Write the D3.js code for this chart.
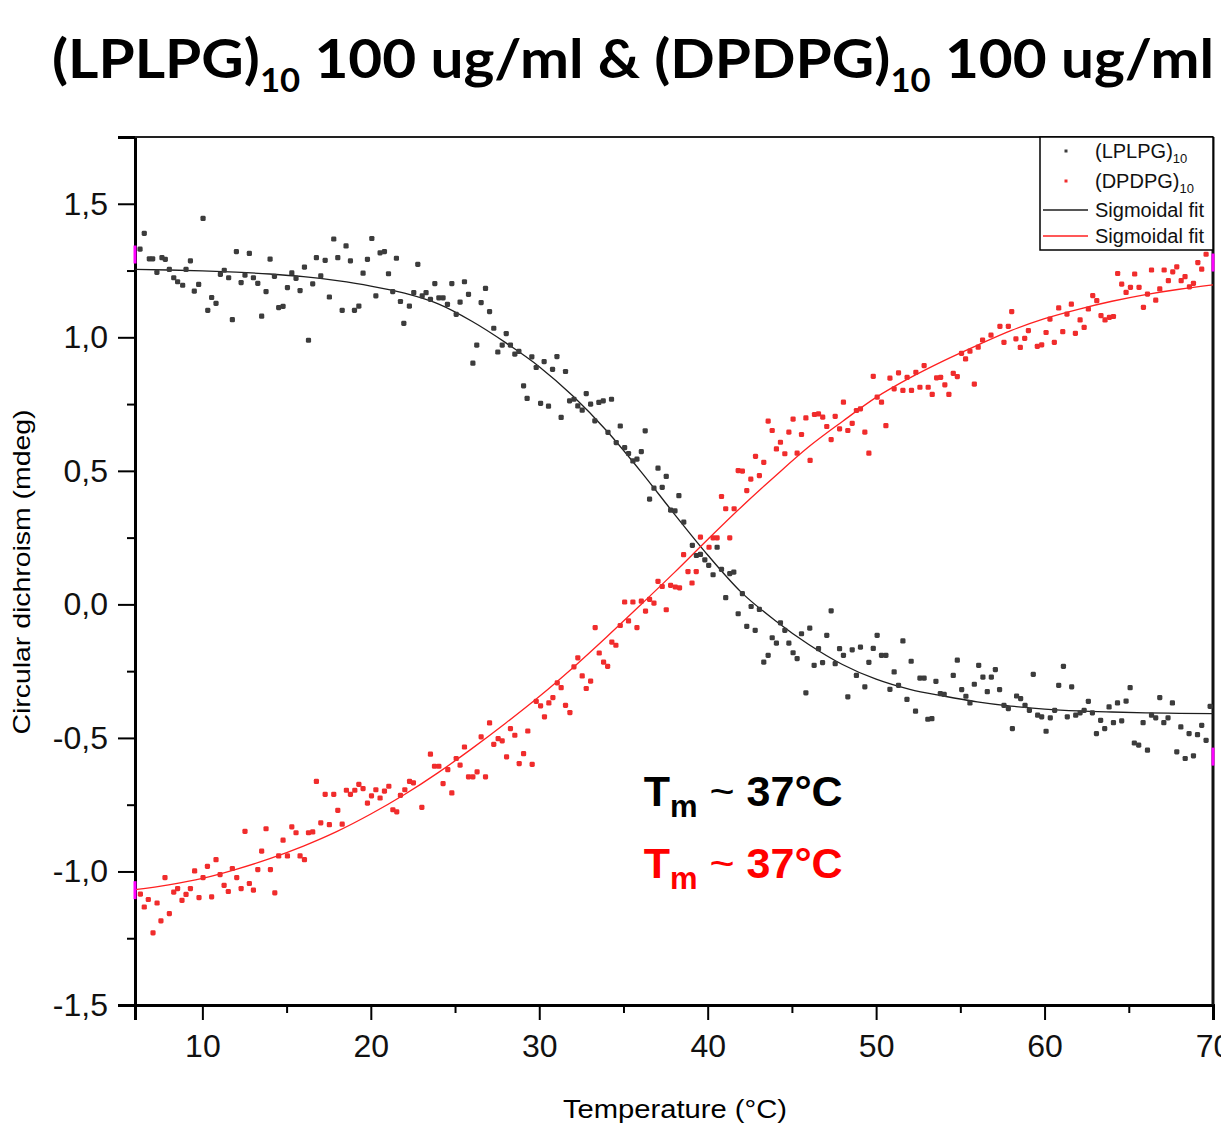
<!DOCTYPE html>
<html>
<head>
<meta charset="utf-8">
<script src="https://cdn.jsdelivr.net/npm/d3@7"></script>
<style>
  body { margin: 0; background: #fff; }
  svg { display: block; }
</style>
</head>
<body>
<div id="chart"></div>
<script>
// values: [temperature (°C), circular dichroism (mdeg)]
var lplpgPoints = [
  [6.3,1.33],[6.55,1.389],[6.85,1.294],[7.05,1.294],[7.3,1.243],[7.6,1.298],[7.8,1.292],[8.04,1.254],[8.3,1.223],[8.53,1.208],
  [8.83,1.195],[9.03,1.254],[9.29,1.286],[9.52,1.173],[9.78,1.198],[10.04,1.445],[10.32,1.101],[10.55,1.149],[10.81,1.127],[11.07,1.236],
  [11.3,1.251],[11.56,1.223],[11.78,1.066],[12.02,1.321],[12.3,1.205],[12.53,1.233],[12.79,1.314],[13.03,1.223],[13.29,1.202],[13.52,1.079],
  [13.78,1.171],[14.02,1.293],[14.28,1.228],[14.53,1.111],[14.79,1.116],[15.05,1.186],[15.31,1.241],[15.56,1.221],[15.8,1.175],[16.06,1.263],
  [16.3,0.989],[16.55,1.2],[16.77,1.298],[17.03,1.23],[17.29,1.288],[17.54,1.151],[17.8,1.368],[18.04,1.298],[18.3,1.101],[18.53,1.342],
  [18.79,1.286],[19.03,1.101],[19.29,1.117],[19.54,1.24],[19.8,1.292],[20.06,1.37],[20.3,1.155],[20.55,1.316],[20.81,1.321],[21.05,1.238],
  [21.3,1.171],[21.52,1.296],[21.76,1.134],[21.96,1.052],[22.29,1.117],[22.55,1.167],[22.79,1.273],[23.05,1.155],[23.28,1.167],[23.54,1.142],
  [23.8,1.201],[24.04,1.148],[24.29,1.148],[24.55,1.123],[24.81,1.201],[25.07,1.086],[25.3,1.132],[25.56,1.208],[25.8,1.161],[26.06,0.903],
  [26.29,0.971],[26.55,1.13],[26.81,1.183],[27.05,1.096],[27.3,1.034],[27.54,0.945],[27.8,0.971],[28.04,1.014],[28.29,0.971],[28.55,0.937],
  [28.79,0.947],[29.07,0.818],[29.28,0.771],[29.56,0.927],[29.82,0.887],[30.08,0.753],[30.29,0.909],[30.55,0.742],[30.79,0.88],[31.05,0.928],
  [31.3,0.7],[31.56,0.872],[31.8,0.762],[32.06,0.768],[32.29,0.743],[32.55,0.727],[32.79,0.789],[33.05,0.75],[33.3,0.687],[33.54,0.756],
  [33.8,0.762],[34.08,0.644],[34.29,0.768],[34.57,0.606],[34.81,0.668],[35.07,0.587],[35.3,0.565],[35.56,0.537],[35.8,0.544],[36.06,0.572],
  [36.29,0.65],[36.55,0.394],[36.81,0.435],[37.05,0.51],[37.3,0.438],[37.54,0.479],[37.8,0.353],[38.06,0.35],[38.29,0.407],[38.58,0.308],
  [39.09,0.221],[39.33,0.183],[39.57,0.187],[39.83,0.167],[40.06,0.146],[40.32,0.111],[40.56,0.214],[40.82,0.131],[41.07,0.025],[41.31,0.115],
  [41.55,0.121],[41.81,-0.035],[42.06,0.04],[42.32,-0.082],[42.58,-0.008],[42.82,-0.097],[43.07,-0.019],[43.33,-0.216],[43.59,-0.191],[43.83,-0.125],
  [44.08,-0.145],[44.32,-0.069],[44.58,-0.097],[44.82,-0.145],[45.07,-0.181],[45.31,-0.203],[45.57,-0.11],[45.83,-0.331],[46.06,-0.089],[46.32,-0.228],
  [46.58,-0.166],[46.82,-0.218],[47.07,-0.116],[47.33,-0.024],[47.57,-0.222],[47.83,-0.166],[48.06,-0.191],[48.32,-0.346],[48.58,-0.17],[48.83,-0.266],
  [49.07,-0.16],[49.33,-0.309],[49.57,-0.217],[49.83,-0.165],[50.06,-0.116],[50.32,-0.191],[50.58,-0.191],[50.82,-0.318],[51.07,-0.253],[51.33,-0.303],
  [51.59,-0.137],[51.83,-0.356],[52.08,-0.213],[52.34,-0.4],[52.6,-0.276],[52.85,-0.276],[53.07,-0.43],[53.31,-0.428],[53.55,-0.288],[53.81,-0.334],
  [54.04,-0.337],[54.58,-0.266],[54.82,-0.209],[55.08,-0.319],[55.33,-0.344],[55.57,-0.369],[55.83,-0.299],[56.09,-0.228],[56.34,-0.272],[56.6,-0.327],
  [56.84,-0.272],[57.08,-0.244],[57.33,-0.319],[57.59,-0.378],[57.85,-0.39],[58.09,-0.465],[58.34,-0.343],[58.58,-0.353],[58.84,-0.378],[59.1,-0.397],
  [59.33,-0.262],[59.59,-0.415],[59.83,-0.421],[60.09,-0.475],[60.34,-0.425],[60.6,-0.397],[60.84,-0.303],[61.12,-0.232],[61.35,-0.421],[61.61,-0.309],
  [61.85,-0.415],[62.11,-0.406],[62.35,-0.397],[62.6,-0.363],[62.84,-0.406],[63.08,-0.484],[63.33,-0.434],[63.57,-0.465],[63.83,-0.384],[64.09,-0.443],
  [64.33,-0.369],[64.58,-0.436],[64.84,-0.362],[65.08,-0.312],[65.33,-0.519],[65.59,-0.527],[65.85,-0.443],[66.11,-0.546],[66.35,-0.415],[66.6,-0.425],
  [66.84,-0.349],[67.08,-0.443],[67.33,-0.425],[67.59,-0.369],[67.85,-0.552],[68.09,-0.459],[68.35,-0.577],[68.58,-0.484],[68.84,-0.567],[69.08,-0.488],
  [69.33,-0.453],[69.59,-0.509],[69.83,-0.382]
];

var dpdpgPoints = [
  [6.32,-1.085],[6.55,-1.133],[6.79,-1.105],[7.07,-1.23],[7.31,-1.118],[7.54,-1.185],[7.78,-1.023],[8.04,-1.158],[8.3,-1.077],[8.53,-1.064],
  [8.79,-1.108],[9.03,-1.086],[9.29,-1.064],[9.54,-0.998],[9.8,-1.098],[10.04,-1.023],[10.3,-0.981],[10.55,-1.095],[10.81,-0.956],[11.05,-1.012],
  [11.29,-1.052],[11.54,-1.075],[11.78,-0.989],[12.04,-1.023],[12.3,-1.064],[12.53,-0.85],[12.79,-1.045],[13.03,-1.07],[13.29,-0.993],[13.52,-0.924],
  [13.78,-0.84],[14.04,-0.993],[14.3,-1.08],[14.53,-0.942],[14.79,-0.883],[15.05,-0.942],[15.31,-0.833],[15.56,-0.855],[15.8,-0.942],[16.06,-0.956],
  [16.3,-0.855],[16.55,-0.852],[16.77,-0.663],[17.03,-0.818],[17.29,-0.711],[17.54,-0.825],[17.8,-0.711],[18.04,-0.771],[18.3,-0.823],[18.55,-0.696],
  [18.79,-0.711],[19.05,-0.696],[19.29,-0.674],[19.54,-0.69],[19.8,-0.744],[20.04,-0.717],[20.3,-0.694],[20.55,-0.725],[20.81,-0.699],[21.07,-0.681],
  [21.31,-0.769],[21.54,-0.777],[21.76,-0.715],[22.02,-0.694],[22.3,-0.663],[22.53,-0.668],[23.03,-0.76],[23.54,-0.561],[23.78,-0.606],[24.04,-0.606],
  [24.29,-0.671],[24.57,-0.619],[24.81,-0.706],[25.07,-0.577],[25.3,-0.602],[25.56,-0.534],[25.8,-0.646],[26.06,-0.646],[26.31,-0.627],[26.55,-0.496],
  [26.81,-0.646],[27.05,-0.444],[27.3,-0.524],[27.56,-0.503],[27.8,-0.511],[28.06,-0.571],[28.29,-0.465],[28.55,-0.49],[28.81,-0.596],[29.07,-0.559],
  [29.32,-0.474],[29.58,-0.599],[29.82,-0.363],[30.08,-0.38],[30.31,-0.421],[30.57,-0.369],[30.81,-0.349],[31.07,-0.294],[31.3,-0.312],[31.56,-0.378],
  [31.82,-0.405],[32.06,-0.234],[32.29,-0.2],[32.55,-0.268],[32.79,-0.315],[33.05,-0.287],[33.32,-0.087],[33.56,-0.182],[33.82,-0.216],[34.06,-0.232],
  [34.31,-0.141],[34.55,-0.153],[34.81,-0.079],[35.07,0.009],[35.3,-0.062],[35.56,0.009],[35.8,-0.087],[36.06,0.012],[36.31,-0.025],[36.55,0.019],
  [36.81,0.005],[37.05,0.086],[37.3,0.067],[37.54,-0.02],[37.8,0.071],[38.08,0.065],[38.33,0.062],[38.57,0.186],[38.83,0.123],[39.07,0.08],
  [39.32,0.123],[39.57,0.252],[40.08,0.214],[40.32,0.249],[40.56,0.249],[40.82,0.404],[41.07,0.358],[41.31,0.249],[41.57,0.358],[41.81,0.501],
  [42.06,0.499],[42.32,0.426],[42.56,0.469],[42.84,0.554],[43.07,0.482],[43.33,0.532],[43.59,0.686],[43.83,0.651],[44.08,0.582],[44.32,0.607],
  [44.58,0.564],[44.82,0.645],[45.07,0.694],[45.31,0.566],[45.57,0.636],[45.83,0.698],[46.08,0.539],[46.34,0.711],[46.58,0.713],[46.83,0.701],
  [47.07,0.666],[47.33,0.617],[47.57,0.704],[47.83,0.657],[48.06,0.757],[48.32,0.651],[48.58,0.678],[48.83,0.726],[49.07,0.732],[49.33,0.645],
  [49.57,0.566],[49.83,0.854],[50.06,0.776],[50.32,0.757],[50.58,0.669],[50.82,0.847],[51.07,0.807],[51.33,0.867],[51.59,0.801],[51.84,0.85],
  [52.1,0.801],[52.36,0.869],[52.6,0.813],[52.85,0.894],[53.09,0.813],[53.33,0.786],[53.59,0.848],[53.83,0.85],[54.08,0.822],[54.32,0.786],
  [54.58,0.865],[54.82,0.853],[55.07,0.94],[55.31,0.919],[55.57,0.948],[55.83,0.825],[56.06,0.963],[56.32,0.99],[56.82,1.008],[57.35,1.041],
  [57.59,0.981],[57.85,1.041],[58.05,1.096],[58.3,0.994],[58.56,0.962],[58.82,0.996],[59.04,1.025],[59.57,0.966],[59.83,0.972],[60.09,1.018],
  [60.32,1.068],[60.58,0.981],[60.84,1.11],[61.08,1.021],[61.33,1.087],[61.59,1.124],[61.83,1.015],[62.11,1.065],[62.35,1.037],[62.6,1.106],
  [62.86,1.156],[63.1,1.137],[63.35,1.081],[63.59,1.065],[63.85,1.075],[64.09,1.078],[64.34,1.239],[64.58,1.199],[64.84,1.168],[65.1,1.187],
  [65.35,1.237],[65.61,1.187],[65.87,1.112],[66.11,1.162],[66.35,1.252],[66.6,1.139],[66.84,1.181],[67.1,1.252],[67.35,1.212],[67.61,1.245],
  [67.85,1.264],[68.11,1.212],[68.34,1.227],[68.6,1.189],[68.84,1.202],[69.1,1.28],[69.33,1.255],[69.59,1.311]
];

// sigmoidal fit curves, read every 2 °C
var fitTemps = [6,8,10,12,14,16,18,20,22,24,26,28,30,32,34,36,38,40,42,44,46,48,50,52,54,56,58,60,62,64,66,68,70];
var lplpgFit = [1.254,1.252,1.249,1.244,1.237,1.227,1.212,1.192,1.165,1.125,1.06,0.98,0.89,0.78,0.65,0.5,0.34,0.185,0.045,-0.06,-0.15,-0.225,-0.28,-0.318,-0.343,-0.365,-0.381,-0.392,-0.399,-0.403,-0.406,-0.408,-0.409];
var dpdpgFit = [-1.068,-1.05,-1.026,-0.992,-0.952,-0.905,-0.85,-0.785,-0.712,-0.63,-0.54,-0.445,-0.345,-0.237,-0.122,-0.003,0.118,0.243,0.365,0.48,0.59,0.685,0.775,0.848,0.912,0.97,1.025,1.07,1.105,1.135,1.16,1.18,1.196];

var xTicks = [10, 20, 30, 40, 50, 60, 70];
var xMinorTicks = [15, 25, 35, 45, 55, 65];
var yTicks = [-1.5, -1, -0.5, 0, 0.5, 1, 1.5];
var yMinorTicks = [-1.25, -0.75, -0.25, 0.25, 0.75, 1.25];
var edgeMarks = [[6, 1.31], [6, -1.07], [70, 1.28], [70, -0.57]];

var blackPt = "#3c3c3c", redPt = "#f02c2c", blackLine = "#1e1e1e", redLine = "#ff2020";

// set the dimensions and margins of the graph
var margin = {top: 137, right: 8, bottom: 119, left: 135},
    width = 1221 - margin.left - margin.right,
    height = 1124 - margin.top - margin.bottom;

var root = d3.select("#chart")
  .append("svg")
    .attr("width", 1221)
    .attr("height", 1124);

// title
var title = root.append("text")
  .attr("x", 52)
  .attr("y", 78)
  .attr("font-family", "Lato, 'Open Sans', sans-serif")
  .attr("font-weight", "bold")
  .attr("font-size", 54)
  .attr("fill", "#000")
  .attr("textLength", 1162)
  .attr("lengthAdjust", "spacingAndGlyphs");
title.append("tspan").text("(LPLPG)");
title.append("tspan").attr("font-size", 32).attr("dy", 14).text("10");
title.append("tspan").attr("dy", -14).text(" 100 ug/ml & (DPDPG)");
title.append("tspan").attr("font-size", 32).attr("dy", 14).text("10");
title.append("tspan").attr("dy", -14).text(" 100 ug/ml");

var svg = root.append("g")
  .attr("transform", "translate(" + margin.left + "," + margin.top + ")");

// scales
var x = d3.scaleLinear()
  .domain([6, 70])
  .range([0, width]);

var y = d3.scaleLinear()
  .domain([-1.5, 1.75])
  .range([height, 0]);

var fmt = function(d) { return d.toFixed(1).replace(".", ","); };

// X axis
svg.append("g")
  .attr("transform", "translate(0," + height + ")")
  .call(d3.axisBottom(x).tickValues(xTicks).tickSize(15).tickPadding(14).tickFormat(d3.format("d")));
svg.append("g")
  .attr("transform", "translate(0," + height + ")")
  .call(d3.axisBottom(x).tickValues(xMinorTicks).tickSize(8).tickFormat(""))
  .select(".domain").remove();

// Y axis
svg.append("g")
  .call(d3.axisLeft(y).tickValues(yTicks).tickSize(17).tickPadding(10).tickFormat(fmt));
svg.append("g")
  .call(d3.axisLeft(y).tickValues(yMinorTicks).tickSize(8).tickFormat(""))
  .select(".domain").remove();

svg.selectAll(".tick line").attr("stroke", "#000").attr("stroke-width", 2);
svg.selectAll(".domain").attr("stroke", "#000").attr("stroke-width", 3);
svg.selectAll(".tick text")
  .attr("font-family", "'Liberation Sans', Arial, sans-serif")
  .attr("font-size", 32)
  .attr("fill", "#111");

// frame top and right
svg.append("line")
  .attr("x1", 0).attr("x2", width).attr("y1", 0).attr("y2", 0)
  .attr("stroke", "#222").attr("stroke-width", 2);
svg.append("line")
  .attr("x1", width).attr("x2", width).attr("y1", 0).attr("y2", height)
  .attr("stroke", "#111").attr("stroke-width", 3);

// axis titles
root.append("text")
  .attr("x", 675)
  .attr("y", 1118)
  .attr("text-anchor", "middle")
  .attr("font-family", "'Liberation Sans', Arial, sans-serif")
  .attr("font-size", 26)
  .attr("textLength", 224)
  .attr("lengthAdjust", "spacingAndGlyphs")
  .text("Temperature (°C)");

root.append("text")
  .attr("transform", "translate(30,572) rotate(-90)")
  .attr("text-anchor", "middle")
  .attr("font-family", "'Liberation Sans', Arial, sans-serif")
  .attr("font-size", 24)
  .attr("textLength", 325)
  .attr("lengthAdjust", "spacingAndGlyphs")
  .text("Circular dichroism (mdeg)");

svg.append("clipPath").attr("id", "plotclip")
  .append("rect").attr("x", 0).attr("y", 0).attr("width", width).attr("height", height);

var plot = svg.append("g").attr("clip-path", "url(#plotclip)");

// fit lines
var fitLine = function(values) {
  return d3.line()
    .curve(d3.curveMonotoneX)
    .x(function(d, i) { return x(fitTemps[i]); })
    .y(function(d) { return y(d); })(values);
};

plot.append("path")
  .attr("d", fitLine(lplpgFit))
  .attr("fill", "none")
  .attr("stroke", blackLine)
  .attr("stroke-width", 1.3);

plot.append("path")
  .attr("d", fitLine(dpdpgFit))
  .attr("fill", "none")
  .attr("stroke", redLine)
  .attr("stroke-width", 1.3);

// Add dots
var addDots = function(data, color) {
  plot.append("g")
    .selectAll("rect")
    .data(data)
    .enter()
    .append("rect")
      .attr("x", function(d) { return x(d[0]) - 2.6; })
      .attr("y", function(d) { return y(d[1]) - 2.6; })
      .attr("width", 5.2)
      .attr("height", 5.2)
      .attr("rx", 1.4)
      .style("fill", color);
};
addDots(lplpgPoints, blackPt);
addDots(dpdpgPoints, redPt);

// small magenta markers at the curve ends
svg.append("g")
  .selectAll("line")
  .data(edgeMarks)
  .enter()
  .append("line")
    .attr("x1", function(d) { return x(d[0]); })
    .attr("x2", function(d) { return x(d[0]); })
    .attr("y1", function(d) { return y(d[1]) - 9; })
    .attr("y2", function(d) { return y(d[1]) + 9; })
    .attr("stroke", "#ff00ff")
    .attr("stroke-width", 3);

// Tm annotations
var tm = [["#000", -0.755], ["#ff0000", -1.025]];
tm.forEach(function(t) {
  var txt = svg.append("text")
    .attr("x", x(36.2))
    .attr("y", y(t[1]))
    .attr("font-family", "'Liberation Sans', Arial, sans-serif")
    .attr("font-weight", "bold")
    .attr("font-size", 43)
    .attr("fill", t[0]);
  txt.append("tspan").text("T");
  txt.append("tspan").attr("font-size", 31).attr("dy", 11).text("m");
  txt.append("tspan").attr("dy", -11).attr("font-weight", "normal").text(" ~ ");
  txt.append("tspan").text("37°C");
});

// legend
var legend = svg.append("g").attr("transform", "translate(" + (width - 173) + ",0)");
legend.append("rect")
  .attr("x", 0).attr("y", 0).attr("width", 173).attr("height", 113)
  .attr("fill", "#fff").attr("stroke", "#000").attr("stroke-width", 1.5);

var legendItems = [
  {label: "(LPLPG)", sub: "10", color: blackPt, type: "dot"},
  {label: "(DPDPG)", sub: "10", color: redPt, type: "dot"},
  {label: "Sigmoidal fit", sub: "", color: blackLine, type: "line"},
  {label: "Sigmoidal fit", sub: "", color: redLine, type: "line"}
];
var rowY = [14, 44, 73, 99];

legendItems.forEach(function(item, i) {
  var cy = rowY[i];
  if (item.type === "dot") {
    legend.append("rect")
      .attr("x", 24.5).attr("y", cy - 1.5).attr("width", 3).attr("height", 3)
      .attr("fill", item.color);
  } else {
    legend.append("line")
      .attr("x1", 3).attr("x2", 48).attr("y1", cy).attr("y2", cy)
      .attr("stroke", item.color).attr("stroke-width", 1.3);
  }
  var t = legend.append("text")
    .attr("x", 55)
    .attr("y", cy + 7)
    .attr("font-family", "'Liberation Sans', Arial, sans-serif")
    .attr("font-size", 20)
    .attr("fill", "#111");
  t.append("tspan").text(item.label);
  if (item.sub) {
    t.append("tspan").attr("font-size", 13).attr("dy", 5).text(item.sub);
  }
});
</script>
</body>
</html>
